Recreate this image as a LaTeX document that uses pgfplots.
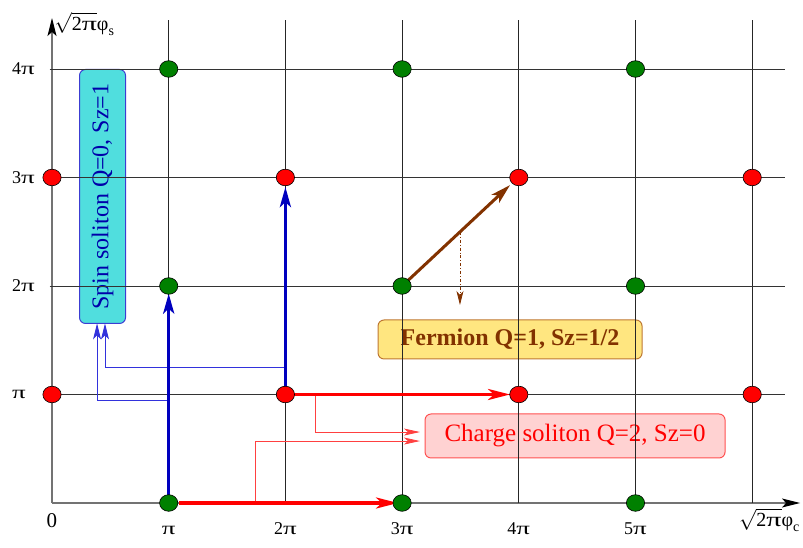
\documentclass[border=0pt]{standalone}
\usepackage{graphicx}
\usepackage{pgfplots}
\pgfplotsset{compat=1.18}
\usetikzlibrary{arrows.meta}
\usepackage{fontspec}
\setmainfont{Liberation Serif}
\newcommand{\PI}{\scalebox{1.5}[1]{π}}
\newcommand{\tk}{\fontsize{18}{21}\selectfont}
\definecolor{dotgreen}{RGB}{0,128,0}
\definecolor{myblue}{RGB}{0,0,190}
\definecolor{thinblue}{RGB}{50,50,220}
\definecolor{brownarrow}{RGB}{130,50,0}
\definecolor{spinfill}{RGB}{80,222,222}
\definecolor{spindraw}{RGB}{60,60,210}
\definecolor{spintext}{RGB}{0,0,170}
\definecolor{fermfill}{RGB}{255,230,128}
\definecolor{fermdraw}{RGB}{190,120,50}
\definecolor{chargefill}{RGB}{255,210,210}
\definecolor{chargedraw}{RGB}{255,80,80}
\begin{document}
\begin{tikzpicture}
\begin{axis}[
 x=116.7pt, y=108.5pt,
 xmin=0, xmax=6.41, ymin=0, ymax=4.47,
 axis lines*=left,
 axis line style={black!55, line width=1.2pt, -{Stealth[length=18pt,width=9pt,inset=4pt,color=black]}},
 enlargelimits=false,
 clip=false,
 xtick={0,1,2,3,4,5},
 xticklabels={{\fontsize{21}{24}\selectfont\raisebox{7pt}{0}},{\tk\PI},{\tk 2\PI},{\tk 3\PI},{\tk 4\PI},{\tk 5\PI}},
 ytick={1,2,3,4},
 yticklabels={{\tk\PI},{\tk 2\PI},{\tk 3\PI},{\tk 4\PI}},
 major tick length=0pt,
 tick style={draw=none},
 xticklabel style={anchor=base, yshift=-32pt, inner sep=0pt},
 yticklabel style={anchor=west, xshift=-40pt, inner sep=0pt},
]
% boxes
\node[rotate=90, draw=spindraw, fill=spinfill, rounded corners=6pt, line width=1pt, minimum width=254pt, minimum height=46pt, text=spintext, font=\fontsize{24}{26}\selectfont, inner sep=0pt] at (axis cs:0.433,2.825) {Spin soliton Q=0, Sz=1};
\node[draw=fermdraw, fill=fermfill, rounded corners=6pt, line width=1pt, minimum width=264pt, minimum height=39pt, text=brownarrow, font=\fontsize{24}{26}\selectfont\bfseries, inner sep=0pt] at (axis cs:3.925,1.507) {Fermion Q=1, Sz=1/2};
\node[draw=chargedraw, fill=chargefill, rounded corners=6pt, line width=1pt, minimum width=300pt, minimum height=44pt, text=red, font=\fontsize{25}{27}\selectfont, inner sep=0pt] at (axis cs:4.482,0.6175) {Charge soliton Q=2, Sz=0};
% grid
\draw[black!85, line width=0.8pt] (axis cs:1,0) -- (axis cs:1,4.45);
\draw[black!85, line width=0.8pt] (axis cs:2,0) -- (axis cs:2,4.45);
\draw[black!85, line width=0.8pt] (axis cs:3,0) -- (axis cs:3,4.45);
\draw[black!85, line width=0.8pt] (axis cs:4,0) -- (axis cs:4,4.45);
\draw[black!85, line width=0.8pt] (axis cs:5,0) -- (axis cs:5,4.45);
\draw[black!85, line width=0.8pt] (axis cs:6,0) -- (axis cs:6,4.45);
\draw[black!80, line width=0.8pt] (axis cs:-0.02,1) -- (axis cs:6.28,1);
\draw[black!80, line width=0.8pt] (axis cs:-0.02,2) -- (axis cs:6.28,2);
\draw[black!80, line width=0.8pt] (axis cs:-0.02,3) -- (axis cs:6.28,3);
\draw[black!80, line width=0.8pt] (axis cs:-0.02,4) -- (axis cs:6.28,4);
% thin connectors
\draw[thinblue, line width=0.9pt, -{Stealth[length=16pt,width=8pt,inset=4pt]}] (axis cs:1,0.949) -- (axis cs:0.386,0.949) -- (axis cs:0.386,1.655);
\draw[thinblue, line width=0.9pt, -{Stealth[length=16pt,width=8pt,inset=4pt]}] (axis cs:2,1.253) -- (axis cs:0.454,1.253) -- (axis cs:0.454,1.655);
\draw[red!75, line width=0.8pt, -{Stealth[length=16pt,width=7pt,inset=4pt]}] (axis cs:2.254,1) -- (axis cs:2.254,0.654) -- (axis cs:3.153,0.654);
\draw[red!75, line width=0.8pt, -{Stealth[length=16pt,width=7pt,inset=4pt]}] (axis cs:1.74,0) -- (axis cs:1.74,0.571) -- (axis cs:3.153,0.571);
% thick arrows
\addplot[myblue, line width=3.5pt, -{Stealth[length=20pt,width=11pt,inset=5pt]}] coordinates {(1,0) (1,1.93)};
\addplot[myblue, line width=3.5pt, -{Stealth[length=20pt,width=11pt,inset=5pt]}] coordinates {(2,1) (2,2.912)};
\addplot[red, line width=3.5pt, -{Stealth[length=22pt,width=11pt,inset=6pt]}] coordinates {(1.09,0) (2.965,0)};
\addplot[red, line width=3.5pt, -{Stealth[length=22pt,width=11pt,inset=6pt]}] coordinates {(2.07,1) (3.925,1)};
% dots
\addplot[only marks, mark=*, mark size=8.3pt, mark options={fill=dotgreen, draw=black, line width=0.6pt, xscale=1.1}] coordinates {(1,0) (3,0) (5,0) (1,2) (3,2) (5,2) (1,4) (3,4) (5,4)};
\addplot[only marks, mark=*, mark size=8.3pt, mark options={fill=red, draw=black, line width=0.6pt, xscale=1.1}] coordinates {(0,1) (2,1) (4,1) (6,1) (0,3) (2,3) (4,3) (6,3)};
% fermion arrow
\addplot[brownarrow, line width=3pt, -{Stealth[length=20pt,width=11pt,inset=5pt]}] coordinates {(3,2) (3.925,2.93)};
\draw[brownarrow, line width=0.8pt, dash dot, -{Stealth[length=14pt,width=7pt,inset=4pt]}] (axis cs:3.496,2.498) -- (axis cs:3.496,1.825);
% axis labels
\node[anchor=base west, inner sep=0pt] at (axis cs:0.02,4.355) {\fontsize{20}{23}\selectfont$\sqrt{\mbox{2\PI}}\mbox{φ}_{\mbox{\fontsize{14}{16}\selectfont s}}$};
\node[anchor=base east, inner sep=0pt] at (axis cs:6.41,-0.221) {\fontsize{20}{23}\selectfont$\sqrt{\mbox{2\PI}}\mbox{φ}_{\mbox{\fontsize{14}{16}\selectfont c}}$};
\end{axis}
\pgfresetboundingbox
\useasboundingbox (-52pt,-45pt) rectangle (751pt,503pt);
\end{tikzpicture}
\end{document}
